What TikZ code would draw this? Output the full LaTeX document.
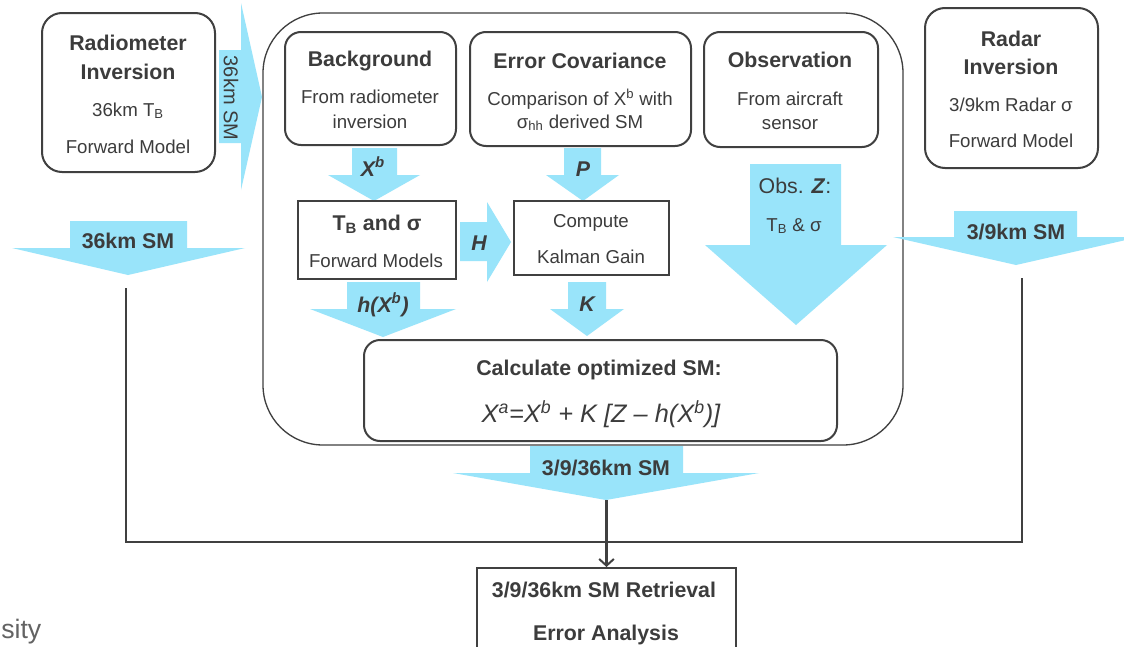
\documentclass[tikz,border=0pt]{standalone}
\usepackage{fontspec}
\setmainfont{Liberation Sans}
\usetikzlibrary{arrows.meta}
\definecolor{arrowfill}{RGB}{153,228,250}
\definecolor{linecol}{RGB}{64,64,64}
\definecolor{txtcol}{RGB}{60,60,60}
\newcommand{\dnarrow}[8]{\fill[arrowfill] (#1,#3) -- (#2,#3) -- (#2,#4) -- (#6,#4) -- (#7,#8) -- (#5,#4) -- (#1,#4) -- cycle;}
\begin{document}
\begin{tikzpicture}[x=0.75pt,y=-0.75pt,
  rbox/.style={draw=linecol, line width=1.5pt, rounded corners=12pt, fill=white, inner sep=0},
  sqbox/.style={draw=linecol, line width=1.2pt, fill=white, inner sep=0},
  txt/.style={anchor=base, inner sep=0, text=txtcol, font=\fontsize{14pt}{16pt}\selectfont},
  ttl/.style={anchor=base, inner sep=0, text=txtcol, font=\fontsize{16pt}{18pt}\selectfont\bfseries},
  sym/.style={anchor=base, inner sep=0, text=txtcol, font=\fontsize{16pt}{18pt}\selectfont\bfseries\itshape},
  conn/.style={draw=linecol, line width=2pt}]
\useasboundingbox (0,0) rectangle (1124,646);
\clip (0,0) rectangle (1124,646);
\fill[white] (0,0) rectangle (1124,646);

% container
\node[draw=linecol, line width=1pt, rounded corners=45pt, inner sep=0,
  minimum width=640*0.75pt, minimum height=432*0.75pt] (cont) at (583,229) {};

% block arrows
\dnarrow{70}{187}{221}{248}{12}{245}{128}{275}
\dnarrow{352}{397}{148}{175}{328}{420}{374}{201}
\dnarrow{564}{601}{148}{175}{546}{619}{583}{201}
\dnarrow{750}{841}{164}{245}{705}{887}{796}{325}
\dnarrow{954}{1077}{211}{237}{893}{1139}{1016}{265}
\dnarrow{347}{420}{282}{309}{310}{456}{383}{337}
\dnarrow{568}{606}{282}{309}{550}{624}{587}{336}
\dnarrow{530}{683}{446}{473}{453}{759}{606}{500}
% right-pointing arrows
\fill[arrowfill] (219,50) -- (241,50) -- (241,3) -- (262,97) -- (241,190) -- (241,143) -- (219,143) -- cycle;
\fill[arrowfill] (460,222) -- (487,222) -- (487,202) -- (511,242) -- (487,282) -- (487,261) -- (460,261) -- cycle;

% boxes
\node[rbox, rounded corners=15pt, minimum width=173*0.75pt, minimum height=159*0.75pt] (radio) at (128.5,92.5) {};
\node[rbox, rounded corners=15pt, minimum width=173*0.75pt, minimum height=160*0.75pt] (radar) at (1011.5,88) {};
\node[rbox, minimum width=171*0.75pt, minimum height=113*0.75pt] (bg) at (370.5,88.5) {};
\node[rbox, minimum width=221*0.75pt, minimum height=114*0.75pt] (ec) at (580.5,89) {};
\node[rbox, minimum width=174*0.75pt, minimum height=115*0.75pt] (obs) at (791,89.5) {};
\node[sqbox, minimum width=158*0.75pt, minimum height=78*0.75pt] (tb) at (377,240) {};
\node[sqbox, minimum width=155*0.75pt, minimum height=74*0.75pt] (kal) at (591.5,238) {};
\node[rbox, minimum width=473*0.75pt, minimum height=101*0.75pt] (calc) at (600.5,390.5) {};
\node[sqbox, line width=1.5pt, minimum width=259*0.75pt, minimum height=92*0.75pt] (final) at (606.5,614) {};

% connectors
\coordinate (lstart) at (126,288);
\coordinate (lcorner) at (126,542);
\coordinate (rcorner) at (1022,542);
\coordinate (rstart) at (1022,278);
\coordinate (ctip) at (606.5,500);
\draw[conn] (lstart) -- (lcorner) -- (rcorner) -- (rstart);
\draw[conn, -{Straight Barb[length=5pt,width=11pt,line width=1.5pt]}] (ctip) -- (final.north);

% texts
\node[ttl] at (128,50) {Radiometer};
\node[ttl] at (128,79) {Inversion};
\node[txt] at (128,116) {36km T\textsubscript{B}};
\node[txt] at (128,153) {Forward Model};
\node[txt, rotate=-90, anchor=center, font=\fontsize{15pt}{17pt}\selectfont] at (231,98) {36km SM};

\node[ttl] at (1011,46) {Radar};
\node[ttl] at (1011,74) {Inversion};
\node[txt] at (1011,111) {3/9km Radar σ};
\node[txt] at (1011,147) {Forward Model};

\node[ttl] at (370,66) {Background};
\node[txt] at (370,103) {From radiometer};
\node[txt] at (370,128) {inversion};

\node[ttl] at (580,68) {Error Covariance};
\node[txt] at (580,105) {Comparison of X\textsuperscript{b} with};
\node[txt] at (580,128) {σ\textsubscript{hh} derived SM};

\node[ttl] at (790,67) {Observation};
\node[txt] at (790,105) {From aircraft};
\node[txt] at (790,129) {sensor};

\node[sym] at (373,176) {X\textsuperscript{b}};
\node[sym] at (583,176) {P};
\node[ttl] at (377,230) {T\textsubscript{B} and σ};
\node[txt] at (376,267) {Forward Models};
\node[sym] at (479,250) {H};
\node[txt] at (591,227) {Compute};
\node[txt] at (591,263) {Kalman Gain};
\node[txt, font=\fontsize{16pt}{18pt}\selectfont] at (795,193) {Obs. \textbf{\textit{Z}}:};
\node[txt] at (794,231) {T\textsubscript{B} \& σ};

\node[ttl] at (128,248) {36km SM};
\node[ttl] at (1016,239) {3/9km SM};
\node[sym] at (383,312) {h(X\textsuperscript{b})};
\node[sym] at (587,311) {K};
\node[ttl] at (599,375) {Calculate optimized SM:};
\node[txt, font=\fontsize{19pt}{21pt}\selectfont\itshape] at (601,422) {X\textsuperscript{a}=X\textsuperscript{b} + K [Z – h(X\textsuperscript{b})]};
\node[ttl] at (606,475) {3/9/36km SM};
\node[ttl] at (604,597) {3/9/36km SM Retrieval};
\node[ttl] at (606,640) {Error Analysis};

\node[anchor=base west, inner sep=0, text=txtcol!80, font=\fontsize{20pt}{22pt}\selectfont] at (1,638) {sity};
\end{tikzpicture}
\end{document}
